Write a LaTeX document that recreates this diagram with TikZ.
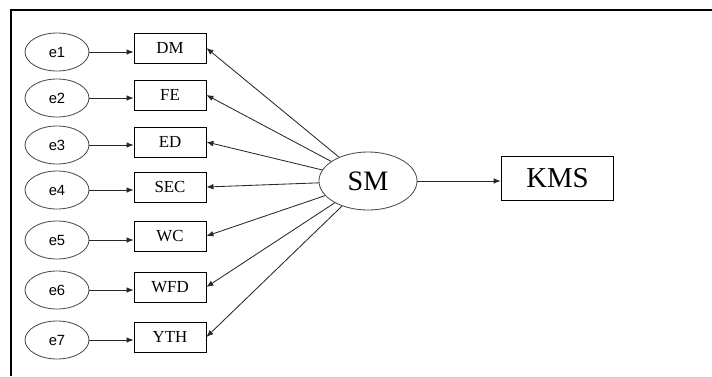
\documentclass[tikz,border=0pt]{standalone}
\usepackage{fontspec}
\setmainfont{Liberation Serif}
\newfontfamily\errfont{Liberation Sans}
\usetikzlibrary{shapes.geometric, arrows.meta}
\tikzset{
	errvar/.style={
		draw=black!70,
		ellipse,
		inner sep=0pt,
		minimum width=1.6cm,
		minimum height=0.95cm,
		font=\errfont\fontsize{10.5}{12}\selectfont
	},
	indicator/.style={
		draw,
		rectangle,
		inner sep=0pt,
		minimum width=1.8cm,
		minimum height=0.75cm,
		font=\fontsize{12}{14}\selectfont
	}
}
\definecolor{linegray}{RGB}{40,40,40}

\begin{document}
\begin{tikzpicture}[x=0.025cm, y=-0.025cm, line width=0.6pt]
	\tikzset{edge/.style={-{Latex[length=5pt, width=4pt]}, linegray}}
	\useasboundingbox (0,0) rectangle (712,376);
	
	% frame (only top and left visible)
	\draw[line width=0.8pt] (712,10) -- (11,10) -- (11,376);
	
	% error terms
	\node(e1) at (57,52) [errvar] {e1};
	\node(e2) at (57,98) [errvar] {e2};
	\node(e3) at (57,145) [errvar] {e3};
	\node(e4) at (57,190) [errvar] {e4};
	\node(e5) at (57,240) [errvar] {e5};
	\node(e6) at (57,290) [errvar] {e6};
	\node(e7) at (57,340) [errvar] {e7};
	
	% observed indicators
	\node(dm) at (170,48) [indicator] {DM};
	\node(fe) at (170,95) [indicator] {FE};
	\node(ed) at (170,142) [indicator] {ED};
	\node(sec) at (170,187) [indicator] {SEC};
	\node(wc) at (170,236) [indicator] {WC};
	\node(wfd) at (170,287) [indicator] {WFD};
	\node(yth) at (170,337) [indicator] {YTH};
	
	% latent and outcome
	\node(sm) at (368,181) [draw=black!70, ellipse, inner sep=0pt, minimum width=2.45cm, minimum height=1.45cm, font=\fontsize{20}{22}\selectfont] {SM};
	\node(kms) at (557.5,178.5) [draw, rectangle, inner sep=0pt, minimum width=2.82cm, minimum height=1.08cm, font=\fontsize{20.5}{23}\selectfont] {KMS};
	
	\draw[edge](e1) -- (e1 -| dm.west);
	\draw[edge](e2) -- (e2 -| fe.west);
	\draw[edge](e3) -- (e3 -| ed.west);
	\draw[edge](e4) -- (e4 -| sec.west);
	\draw[edge](e5) -- (e5 -| wc.west);
	\draw[edge](e6) -- (e6 -| wfd.west);
	\draw[edge](e7) -- (e7 -| yth.west);
	
	\draw[edge](sm) -- (dm.east);
	\draw[edge](sm) -- (fe.east);
	\draw[edge](sm) -- (ed.east);
	\draw[edge](sm) -- (sec.east);
	\draw[edge](sm) -- (wc.east);
	\draw[edge](sm) -- (wfd.east);
	\draw[edge](sm) -- (yth.east);
	
	\draw[edge](sm) -- (sm -| kms.west);
\end{tikzpicture}
\end{document}
